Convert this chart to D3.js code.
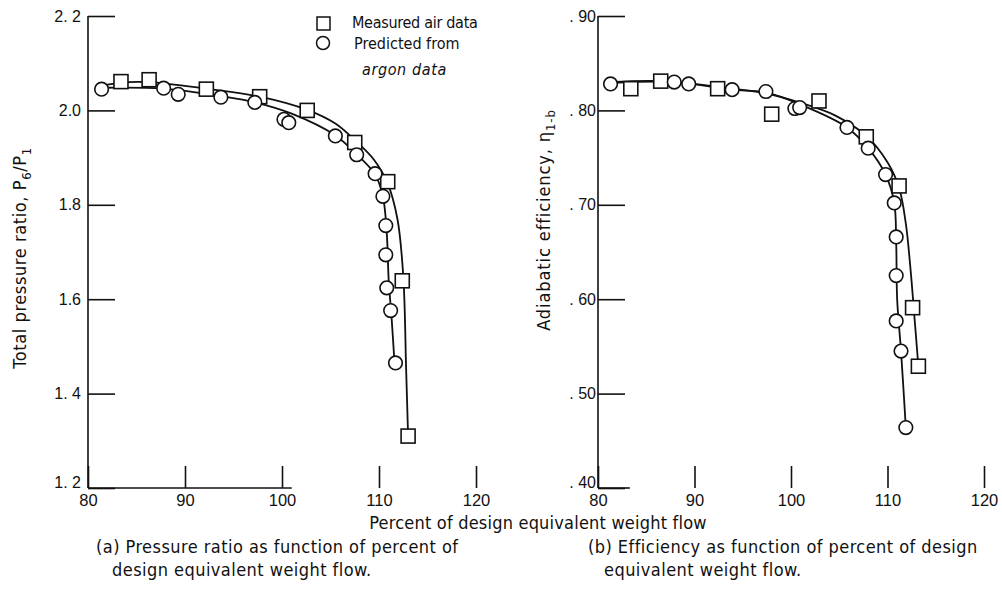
<!DOCTYPE html>
<html>
<head>
<meta charset="utf-8">
<script src="https://cdn.jsdelivr.net/npm/d3@7"></script>
<style>
  body { margin: 0; background: #fff; }
  svg { font-family: "DejaVu Sans Condensed", "Liberation Sans Narrow", sans-serif; }
  text { fill: #111; }
</style>
</head>
<body>
<svg id="chart" width="1002" height="600"></svg>
<script>
// ---- data ----
var xTicks = [80, 90, 100, 110, 120]

// (a) total pressure ratio
var pTicks = [1.2, 1.4, 1.6, 1.8, 2.0, 2.2]
var pTickLabels = ["1. 2", "1. 4", "1.6", "1.8", "2.0", "2. 2"]
var pAirFlow  = [83.4, 86.3, 92.2, 97.7, 102.6, 107.5, 110.9, 112.4, 113.0]
var pAirRatio = [2.061, 2.065, 2.045, 2.029, 2.000, 1.932, 1.849, 1.639, 1.310]
var pArgFlow  = [81.4, 87.8, 89.3, 93.7, 97.2, 100.2, 100.7, 105.5, 107.7, 109.6, 110.4, 110.7, 110.7, 110.8, 111.2, 111.7]
var pArgRatio = [2.045, 2.047, 2.034, 2.028, 2.017, 1.981, 1.974, 1.946, 1.906, 1.866, 1.818, 1.756, 1.694, 1.624, 1.576, 1.465]
// faired curves
var pAirCurveFlow  = [81.4, 83.4, 86.3, 92.2, 97.7, 102.6, 105.5, 107.5, 109.5, 110.9, 111.9, 112.5, 112.8, 113.0]
var pAirCurveRatio = [2.052, 2.059, 2.060, 2.046, 2.029, 2.001, 1.972, 1.937, 1.895, 1.845, 1.770, 1.650, 1.450, 1.310]
var pArgCurveFlow  = [81.4, 87.8, 93.7, 97.2, 101.0, 105.5, 107.7, 109.6, 110.4, 110.8, 111.0, 111.3, 111.6]
var pArgCurveRatio = [2.048, 2.046, 2.030, 2.017, 1.993, 1.947, 1.907, 1.864, 1.818, 1.740, 1.640, 1.560, 1.465]

// (b) adiabatic efficiency
var eTicks = [0.4, 0.5, 0.6, 0.7, 0.8, 0.9]
var eTickLabels = [". 40", ". 50", ". 60", ". 70", ". 80", ". 90"]
var eAirFlow = [83.4, 86.5, 92.4, 98.0, 102.9, 107.8, 111.2, 112.6, 113.2]
var eAirEff  = [0.823, 0.831, 0.823, 0.796, 0.810, 0.772, 0.720, 0.591, 0.529]
var eArgFlow = [81.3, 87.9, 89.4, 93.9, 97.4, 100.4, 100.9, 105.8, 108.0, 109.8, 110.7, 110.9, 110.9, 110.9, 111.4, 111.9]
var eArgEff  = [0.828, 0.830, 0.828, 0.822, 0.820, 0.802, 0.803, 0.782, 0.760, 0.732, 0.702, 0.666, 0.625, 0.577, 0.545, 0.464]
var eAirCurveFlow = [81.3, 86.5, 92.4, 97.4, 101.0, 104.5, 107.8, 110.0, 111.2, 111.9, 112.4, 112.8, 113.2]
var eAirCurveEff  = [0.830, 0.831, 0.825, 0.818, 0.808, 0.795, 0.773, 0.745, 0.718, 0.680, 0.630, 0.580, 0.529]
var eArgCurveFlow = [81.3, 87.9, 93.9, 97.4, 101.0, 105.8, 108.0, 109.8, 110.7, 110.9, 111.0, 111.4, 111.9]
var eArgCurveEff  = [0.829, 0.830, 0.822, 0.819, 0.806, 0.782, 0.760, 0.732, 0.702, 0.660, 0.600, 0.545, 0.464]

var zip = (xs, ys) => xs.map((v, i) => [v, ys[i]])

var svg = d3.select("#chart")

function drawPanel(cfg) {
    var x = d3.scaleLinear().domain([80, 120]).range(cfg.xRange)
    var y = d3.scaleLinear().domain(cfg.yDomain).range([cfg.bottom, 16])
    var g = svg.append("g")

    // y axis: ticks point inward
    var yAxis = d3.axisLeft(y)
        .tickValues(cfg.yTicks)
        .tickFormat((d, i) => cfg.yLabels[i])
        .tickSize(-27)
        .tickPadding(cfg.yPad)
    var ya = g.append("g").attr("transform", "translate(" + cfg.xRange[0] + ",0)").call(yAxis)
    ya.select(".domain").remove()
    ya.selectAll("line").attr("stroke", "#111").attr("stroke-width", 1.6)
    ya.selectAll("text").attr("font-size", 16).attr("fill", "#111")
    // bottom label sits on the base line, as in the scan
    ya.selectAll("text").filter(d => d === cfg.yDomain[0]).attr("dy", "-0.05em")

    g.append("line")
        .attr("x1", cfg.xRange[0]).attr("x2", cfg.xRange[0])
        .attr("y1", y(cfg.yDomain[1])).attr("y2", y(cfg.yDomain[0]))
        .attr("stroke", "#111").attr("stroke-width", 1.6)
    // partial base line, as in the scan
    g.append("line")
        .attr("x1", x(80)).attr("x2", x(cfg.baseEnd))
        .attr("y1", y(cfg.yDomain[0])).attr("y2", y(cfg.yDomain[0]))
        .attr("stroke", "#111").attr("stroke-width", 1.6)

    var xAxis = d3.axisBottom(x)
        .tickValues(xTicks)
        .tickSize(-22)
        .tickPadding(6)
    var xa = g.append("g").attr("transform", "translate(0," + y(cfg.yDomain[0]) + ")").call(xAxis)
    xa.select(".domain").remove()
    xa.selectAll("line").attr("stroke", "#111").attr("stroke-width", 1.6)
    xa.selectAll("text").attr("font-size", 16.5).attr("fill", "#111")

    var line = d3.line().x(d => x(d[0])).y(d => y(d[1])).curve(d3.curveCatmullRom.alpha(0.5))
    g.append("path").datum(cfg.airCurve).attr("d", line)
        .attr("fill", "none").attr("stroke", "#111").attr("stroke-width", 1.8)
    g.append("path").datum(cfg.argCurve).attr("d", line)
        .attr("fill", "none").attr("stroke", "#111").attr("stroke-width", 1.8)

    g.selectAll(".sq").data(cfg.air).enter().append("rect")
        .attr("x", d => x(d[0]) - 7).attr("y", d => y(d[1]) - 7)
        .attr("width", 14).attr("height", 14)
        .attr("fill", "#fff").attr("stroke", "#111").attr("stroke-width", 1.6)
    g.selectAll(".ci").data(cfg.arg).enter().append("circle")
        .attr("cx", d => x(d[0])).attr("cy", d => y(d[1])).attr("r", 6.8)
        .attr("fill", "#fff").attr("stroke", "#111").attr("stroke-width", 1.6)
}

drawPanel({
    xRange: [88, 476], yDomain: [1.2, 2.2], bottom: 488, yTicks: pTicks, yLabels: pTickLabels,
    yPad: 7, baseEnd: 101,
    air: zip(pAirFlow, pAirRatio), arg: zip(pArgFlow, pArgRatio),
    airCurve: zip(pAirCurveFlow, pAirCurveRatio), argCurve: zip(pArgCurveFlow, pArgCurveRatio)
})
drawPanel({
    xRange: [598, 984], yDomain: [0.4, 0.9], bottom: 488, yTicks: eTicks, yLabels: eTickLabels,
    yPad: 2, baseEnd: 83.3,
    air: zip(eAirFlow, eAirEff), arg: zip(eArgFlow, eArgEff),
    airCurve: zip(eAirCurveFlow, eAirCurveEff), argCurve: zip(eArgCurveFlow, eArgCurveEff)
})

// axis titles
var t1 = svg.append("text").attr("transform", "translate(26,258) rotate(-90)")
    .attr("text-anchor", "middle").attr("font-size", 18).attr("letter-spacing", 0.6)
t1.append("tspan").text("Total pressure ratio,  P")
t1.append("tspan").attr("font-size", 13).attr("dy", 5).text("6")
t1.append("tspan").attr("dy", -5).text("/P")
t1.append("tspan").attr("font-size", 13).attr("dy", 5).text("1")

var t2 = svg.append("text").attr("transform", "translate(550,220) rotate(-90)")
    .attr("text-anchor", "middle").attr("font-size", 18).attr("letter-spacing", 0.9)
t2.append("tspan").text("Adiabatic efficiency,  \u03b7")
t2.append("tspan").attr("font-size", 13).attr("dy", 5).text("1-b")

svg.append("text").attr("x", 538).attr("y", 529).attr("text-anchor", "middle")
    .attr("font-size", 18).attr("letter-spacing", 0.2).text("Percent of design equivalent weight flow")

// legend
svg.append("rect").attr("x", 317).attr("y", 17).attr("width", 13).attr("height", 13)
    .attr("fill", "#fff").attr("stroke", "#111").attr("stroke-width", 1.5)
svg.append("circle").attr("cx", 323).attr("cy", 43).attr("r", 6.5)
    .attr("fill", "#fff").attr("stroke", "#111").attr("stroke-width", 1.5)
svg.append("text").attr("x", 352).attr("y", 28).attr("font-size", 16).attr("letter-spacing", -0.3)
    .text("Measured air data")
svg.append("text").attr("x", 354).attr("y", 49).attr("font-size", 16).text("Predicted from")
svg.append("text").attr("x", 362).attr("y", 75).attr("font-size", 16).attr("letter-spacing", 0.6)
    .attr("font-style", "italic").text("argon data")

// captions
var captions = [
    [96, 553, "(a) Pressure ratio as function of percent of"],
    [112, 576, "design equivalent weight flow."],
    [588, 553, "(b) Efficiency as function of percent of design"],
    [604, 576, "equivalent weight flow."]
]
svg.selectAll(".cap").data(captions).enter().append("text")
    .attr("x", d => d[0]).attr("y", d => d[1]).attr("font-size", 18).attr("letter-spacing", 0.45)
    .text(d => d[2])
</script>
</body>
</html>
